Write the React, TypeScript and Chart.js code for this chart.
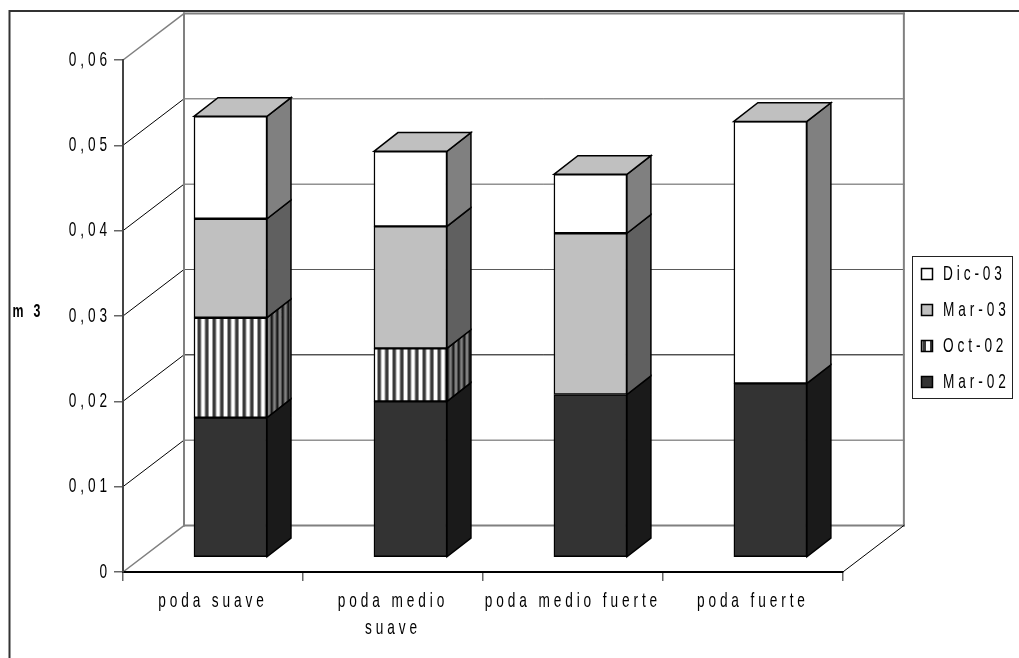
import React, { useEffect, useRef } from "react";
import { Chart, registerables } from "chart.js";

Chart.register(...registerables);

const categories = [["poda suave"], ["poda medio", "suave"], ["poda medio fuerte"], ["poda fuerte"]];
const mar02 = [0.0164, 0.0183, 0.0191, 0.0204];
const oct02 = [0.0117, 0.0062, null, null];
const mar03 = [0.0116, 0.0143, 0.0189, null];
const dic03 = [0.012, 0.0088, 0.0069, 0.0307];
const seriesNames = ["Mar-02", "Oct-02", "Mar-03", "Dic-03"];
const axisUnit = "m 3";

const FONT = '"Liberation Sans", Arial, sans-serif';
const SPACING = "6px";
const TEXT_SQUEEZE = 0.65;

// Oblique projection offsets of the 3D box
const WALL_DX = 61;
const WALL_DY = -46.5;
const BAR_DX = 17.5;
const BAR_DY = -14.5;
const SIDE_DX = 24;
const SIDE_DY = -18.7;

// Two vertical stripes per tile, so that the period may fall between whole pixels
function stripes(dark: string, light: string, tile: number, darkWidth: number) {
  const c = document.createElement("canvas");
  c.width = tile;
  c.height = 4;
  const g = c.getContext("2d")!;
  g.fillStyle = light;
  g.fillRect(0, 0, tile, 4);
  g.fillStyle = dark;
  g.fillRect(0, 0, darkWidth, 4);
  g.fillRect(tile / 2, 0, darkWidth, 4);
  return g.createPattern(c, "repeat")!;
}

// All canvas text is set in a horizontally condensed cut
function condenseText(ctx: any) {
  if (ctx.__condensed) return;
  ctx.__condensed = true;
  const fill = ctx.fillText.bind(ctx);
  const measure = ctx.measureText.bind(ctx);
  ctx.fillText = (text: string, x: number, y: number) => {
    ctx.save();
    ctx.translate(x, y);
    ctx.scale(TEXT_SQUEEZE, 1);
    fill(text, 0, 0);
    ctx.restore();
  };
  ctx.measureText = (text: string) => {
    const m = measure(text);
    return { width: m.width * TEXT_SQUEEZE, actualBoundingBoxAscent: m.actualBoundingBoxAscent, actualBoundingBoxDescent: m.actualBoundingBoxDescent };
  };
}

const box3d = {
  id: "box3d",
  beforeLayout(chart: any) {
    chart.ctx.letterSpacing = SPACING;
  },
  afterLayout(chart: any) {
    const lg = chart.legend;
    const w = lg.width;
    lg.left = 906.5;
    lg.right = 906.5 + w;
    lg.top = 248.5;
    lg.bottom = 248.5 + lg.height;
  },
  beforeDraw(chart: any) {
    const { ctx, chartArea: a, scales } = chart;
    ctx.letterSpacing = SPACING;
    const y = scales.y;
    ctx.save();
    ctx.lineCap = "square";
    // Outer frame (top and left only)
    ctx.strokeStyle = "#333333";
    ctx.lineWidth = 2;
    ctx.beginPath();
    ctx.moveTo(9.5, 658);
    ctx.lineTo(9.5, 11);
    ctx.lineTo(1019, 11);
    ctx.stroke();

    // Horizontal lines on the back wall and their diagonals on the side wall
    for (const t of y.ticks) {
      const py = y.getPixelForValue(t.value);
      const edge = t.value === 0 || t.value === 0.06;
      const thin = t.value === 0.02;
      ctx.strokeStyle = thin ? "#000000" : edge ? "#808080" : "#5A5A5A";
      ctx.lineWidth = edge ? 2 : 1;
      ctx.beginPath();
      ctx.moveTo(a.left + WALL_DX, py + WALL_DY);
      ctx.lineTo(a.right + WALL_DX, py + WALL_DY);
      ctx.stroke();
      ctx.strokeStyle = edge ? "#808080" : "#000000";
      ctx.lineWidth = edge ? 1.5 : 1;
      ctx.beginPath();
      ctx.moveTo(a.left, py);
      ctx.lineTo(a.left + WALL_DX, py + WALL_DY);
      ctx.stroke();
    }
    // Wall verticals
    ctx.strokeStyle = "#808080";
    ctx.lineWidth = 2;
    ctx.beginPath();
    ctx.moveTo(a.left + WALL_DX, a.top + WALL_DY);
    ctx.lineTo(a.left + WALL_DX, a.bottom + WALL_DY);
    ctx.moveTo(a.right + WALL_DX, a.top + WALL_DY);
    ctx.lineTo(a.right + WALL_DX, a.bottom + WALL_DY);
    ctx.stroke();
    // Floor edge
    ctx.strokeStyle = "#000000";
    ctx.lineWidth = 1;
    ctx.beginPath();
    ctx.moveTo(a.right, a.bottom);
    ctx.lineTo(a.right + WALL_DX, a.bottom + WALL_DY);
    ctx.stroke();
    ctx.restore();
  },
  beforeDatasetsDraw(chart: any) {
    chart.ctx.save();
    chart.ctx.translate(BAR_DX, BAR_DY);
  },
  afterDatasetsDraw(chart: any) {
    const { ctx, data } = chart;
    ctx.lineJoin = "miter";
    const columns = data.labels.length;
    for (let col = 0; col < columns; col++) {
      let top: any = null;
      data.datasets.forEach((ds: any, i: number) => {
        if (ds.data[col] == null) return;
        const bar = chart.getDatasetMeta(i).data[col];
        const right = bar.x + bar.width / 2;
        ctx.beginPath();
        ctx.moveTo(right, bar.y);
        ctx.lineTo(right + SIDE_DX, bar.y + SIDE_DY);
        ctx.lineTo(right + SIDE_DX, bar.base + SIDE_DY);
        ctx.lineTo(right, bar.base);
        ctx.closePath();
        ctx.fillStyle = ds.sideColor;
        ctx.fill();
        ctx.strokeStyle = "#000000";
        ctx.lineWidth = 1.5;
        ctx.stroke();
        top = bar;
      });
      if (top) {
        const l = top.x - top.width / 2;
        const r = top.x + top.width / 2;
        ctx.beginPath();
        ctx.moveTo(l, top.y);
        ctx.lineTo(l + SIDE_DX, top.y + SIDE_DY);
        ctx.lineTo(r + SIDE_DX, top.y + SIDE_DY);
        ctx.lineTo(r, top.y);
        ctx.closePath();
        ctx.fillStyle = "#C0C0C0";
        ctx.fill();
        ctx.strokeStyle = "#000000";
        ctx.lineWidth = 1.5;
        ctx.stroke();
      }
    }
    ctx.restore();
  },
  afterDraw(chart: any) {
    const { ctx } = chart;
    ctx.save();
    // Frame around the legend
    ctx.strokeStyle = "#222222";
    ctx.lineWidth = 1;
    ctx.strokeRect(912.5, 256.5, 100, 142);
    // Unit label beside the value axis
    ctx.fillStyle = "#000000";
    ctx.font = `bold 19px ${FONT}`;
    ctx.letterSpacing = "5px";
    ctx.textAlign = "left";
    ctx.textBaseline = "middle";
    ctx.fillText(axisUnit, 12.5, 312);
    ctx.restore();
  },
};

export default function App() {
  const ref = useRef<HTMLCanvasElement>(null);
  useEffect(() => {
    condenseText(ref.current!.getContext("2d"));
    const styles = [
      { label: seriesNames[0], data: mar02, backgroundColor: "#333333", sideColor: "#1A1A1A" },
      { label: seriesNames[1], data: oct02, backgroundColor: stripes("#3A3A3A", "#FFFFFF", 15, 3.5), sideColor: stripes("#1A1A1A", "#808080", 11, 2.5) },
      { label: seriesNames[2], data: mar03, backgroundColor: "#C0C0C0", sideColor: "#606060" },
      { label: seriesNames[3], data: dic03, backgroundColor: "#FFFFFF", sideColor: "#808080" },
    ];
    const chart = new Chart(ref.current!, {
      type: "bar",
      data: {
        labels: categories as any,
        datasets: styles.map((s) => ({
          ...s,
          borderColor: "#000000",
          borderWidth: 1.5,
          borderSkipped: false,
          barThickness: 73,
          clip: false as any,
        })) as any,
      },
      plugins: [box3d as any],
      options: {
        animation: false,
        responsive: false,
        layout: { padding: { top: 60, left: 0, right: 63, bottom: 0 } },
        plugins: {
          title: { display: false },
          tooltip: { enabled: false },
          legend: {
            display: true,
            position: "right",
            align: "start",
            reverse: true,
            labels: {
              boxWidth: 11,
              boxHeight: 11,
              padding: 15,
              color: "#000000",
              font: { family: FONT, size: 21 },
            },
          },
        },
        scales: {
          x: {
            stacked: true,
            afterFit: (s: any) => {
              s.height = 86;
            },
            grid: { drawOnChartArea: false, drawTicks: true, tickLength: 9, color: "#666666", lineWidth: 1.5 },
            border: { display: true, color: "#000000", width: 2 },
            ticks: {
              color: "#000000",
              padding: 6,
              autoSkip: false,
              maxRotation: 0,
              minRotation: 0,
              font: { family: FONT, size: 21, lineHeight: 1.31 },
            },
          },
          y: {
            stacked: true,
            min: 0,
            max: 0.06,
            afterFit: (s: any) => {
              s.width = 123;
            },
            grid: { drawOnChartArea: false, drawTicks: true, tickLength: 9, color: "#666666", lineWidth: 1.5 },
            border: { display: true, color: "#444444", width: 2 },
            ticks: {
              stepSize: 0.01,
              color: "#000000",
              padding: 3,
              font: { family: FONT, size: 21 },
              callback: (v: any) => (Number(v) === 0 ? "0" : Number(v).toFixed(2).replace(".", ",")),
            },
          },
        },
      },
    });
    return () => chart.destroy();
  }, []);
  return (
    <div style={{ position: "absolute", left: 0, top: 0, width: 1019, height: 658, background: "#FFFFFF" }}>
      <canvas ref={ref} width={1019} height={658} style={{ display: "block" }} />
    </div>
  );
}
